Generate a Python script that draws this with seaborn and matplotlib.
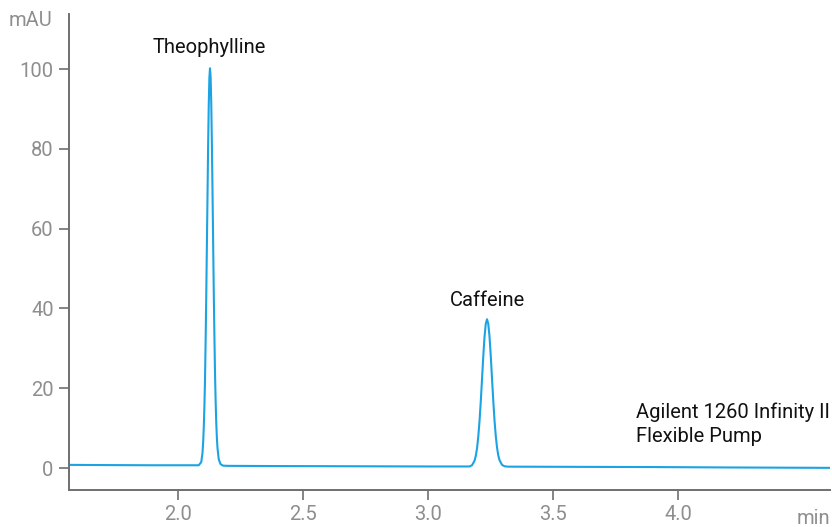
import matplotlib
matplotlib.use("Agg")
import matplotlib.pyplot as plt
import pandas as pd
import seaborn as sns

# Chromatogram trace (retention time in min, absorbance in mAU)
time_min = [
    1.56, 1.70, 1.90, 2.05, 2.083, 2.093, 2.098, 2.1005, 2.103, 2.1055,
    2.108, 2.1105, 2.113, 2.1155, 2.118, 2.1205, 2.123, 2.1255, 2.128,
    2.1305, 2.133, 2.1355, 2.138, 2.1405, 2.143, 2.1455, 2.148, 2.1505,
    2.153, 2.1555, 2.158, 2.163, 2.170, 2.180, 2.20, 2.40, 2.70, 3.00,
    3.15, 3.166, 3.176, 3.186, 3.191, 3.196, 3.201, 3.206, 3.211, 3.216,
    3.221, 3.226, 3.231, 3.236, 3.241, 3.246, 3.251, 3.256, 3.261, 3.266,
    3.271, 3.276, 3.281, 3.286, 3.296, 3.306, 3.32, 3.60, 3.90, 4.20,
    4.40, 4.61,
]
absorbance_mau = [
    0.80, 0.75, 0.70, 0.70, 0.70, 1.5, 3.8, 6.3, 10.0, 15.2,
    22.0, 31.8, 43.0, 55.7, 68.0, 80.9, 91.0, 97.8, 100.2,
    98.0, 91.5, 81.5, 69.5, 57.0, 44.5, 33.5, 24.0, 16.8,
    11.5, 7.6, 5.0, 2.2, 1.0, 0.60, 0.55, 0.50, 0.45, 0.40,
    0.40, 0.40, 0.70, 1.8, 3.0, 4.9, 7.8, 11.7, 16.6, 22.2,
    27.9, 32.8, 36.1, 37.3, 36.2, 33.0, 28.2, 22.5, 17.0, 12.0,
    8.1, 5.2, 3.2, 2.0, 0.8, 0.45, 0.35, 0.30, 0.25, 0.15,
    0.10, 0.05,
]

peak_names = ["Theophylline", "Caffeine"]
peak_label_t = [2.124, 3.236]
peak_label_y = [105.3, 42.1]

x_ticks = [2.0, 2.5, 3.0, 3.5, 4.0]
y_ticks = [0, 20, 40, 60, 80, 100]

sns.set_style("ticks")
plt.rcParams["font.family"] = ["Roboto", "DejaVu Sans"]

fig = plt.figure(figsize=(8.32, 5.27), dpi=100)
ax = fig.add_axes([69 / 832, 1 - 490 / 527, 761 / 832, 476 / 527])

df = pd.DataFrame({"t": time_min, "mAU": absorbance_mau})
sns.lineplot(data=df, x="t", y="mAU", ax=ax, color="#1ba3e3", linewidth=1.5,
             sort=False)

ax.set_xlim(1.564, 4.608)
ax.set_ylim(-5.5, 113.8)
ax.set_xticks(x_ticks)
ax.set_xticklabels([f"{v:.1f}" for v in x_ticks])
ax.set_yticks(y_ticks)
ax.set_yticklabels([str(v) for v in y_ticks])
ax.set_xlabel("")
ax.set_ylabel("")

gray_spine = "#6f6f6f"
gray_text = "#8e8e8e"
for side in ["top", "right"]:
    ax.spines[side].set_visible(False)
for side in ["left", "bottom"]:
    ax.spines[side].set_color(gray_spine)
    ax.spines[side].set_linewidth(1.4)
ax.tick_params(axis="both", colors=gray_spine, labelcolor=gray_text,
               labelsize=14.5, length=7, width=1.2, pad=4)

for name, t, y in zip(peak_names, peak_label_t, peak_label_y):
    ax.text(t, y, name, ha="center", va="center", fontsize=14.5, color="#111111")

ax.text(3.832, 11.0, "Agilent 1260 Infinity II\nFlexible Pump", ha="left",
        va="center", fontsize=14.5, color="#111111", linespacing=1.35)

fig.text(52 / 832, 1 - 20 / 527, "mAU", ha="right", va="center",
         fontsize=14.5, color=gray_text)
fig.text(830 / 832, 1 - 518 / 527, "min", ha="right", va="center",
         fontsize=14.5, color=gray_text)

fig.savefig("out.png", dpi=100)
